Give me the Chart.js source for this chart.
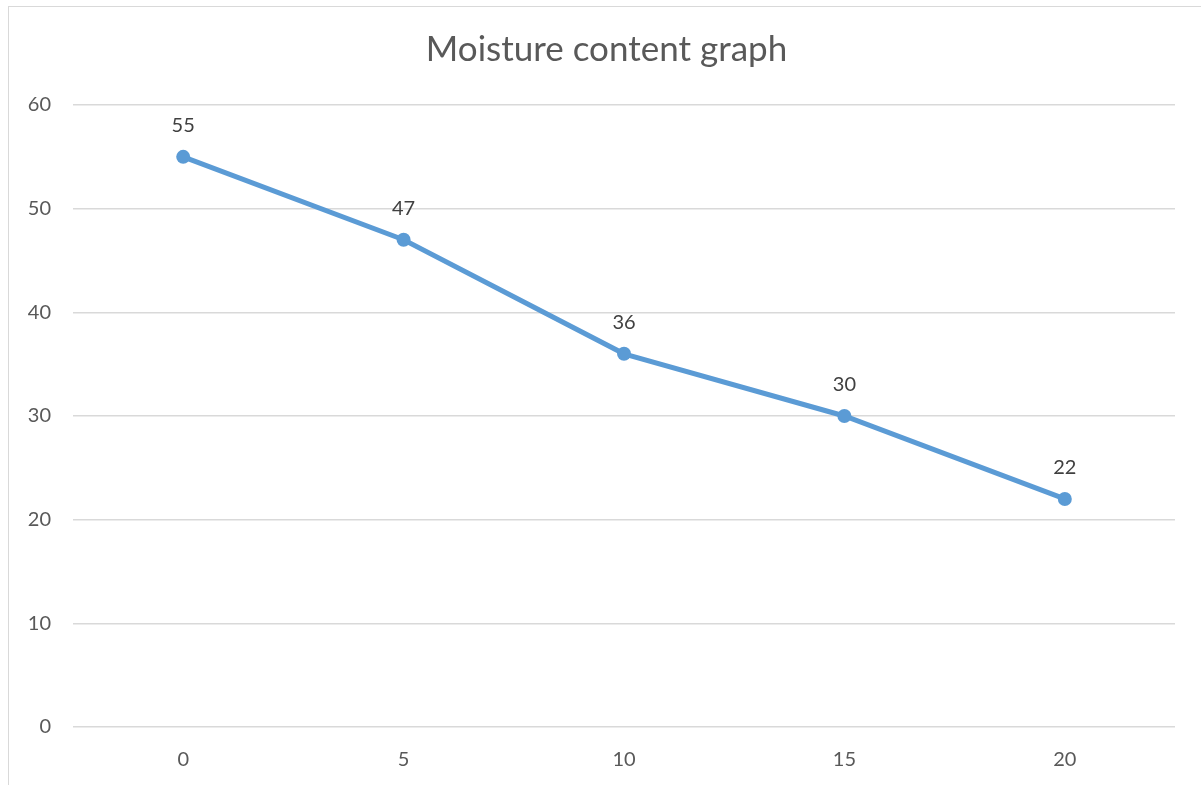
<!DOCTYPE html>
<html>
<head>
<meta charset="utf-8">
<script src="https://cdn.jsdelivr.net/npm/chart.js@4"></script>
<style>
  html, body { margin: 0; padding: 0; background: #fff; }
  #wrap { position: relative; width: 1201px; height: 785px; overflow: hidden; }
  #frame { position: absolute; left: 8px; top: 6px; width: 1300px; height: 900px; border: 1px solid #d9d9d9; box-sizing: border-box; }
  canvas { position: absolute; left: 0; top: 0; }
</style>
</head>
<body>
<div id="wrap">
  <div id="frame"></div>
  <canvas id="moistureChart" width="1201" height="785"></canvas>
</div>
<script>
// chart data
const categories = ['0', '5', '10', '15', '20'];
const moisture = [55, 47, 36, 30, 22];
const yTicks = [0, 10, 20, 30, 40, 50, 60];
const chartTitle = 'Moisture content graph';

const FONT = "Lato, 'Open Sans', sans-serif";

// title centred on the outer frame, not on the plot
const frameTitle = {
  id: 'frameTitle',
  afterDraw(chart) {
    const ctx = chart.ctx;
    ctx.save();
    ctx.font = '35px ' + FONT;
    ctx.fillStyle = '#595959';
    ctx.textAlign = 'center';
    ctx.textBaseline = 'middle';
    ctx.fillText(chartTitle, (chart.width + 12) / 2, 50);
    ctx.restore();
  }
};

// draw value labels above each point
const valueLabels = {
  id: 'valueLabels',
  afterDatasetsDraw(chart) {
    const ctx = chart.ctx;
    const meta = chart.getDatasetMeta(0);
    ctx.save();
    ctx.font = '20px ' + FONT;
    ctx.fillStyle = '#404040';
    ctx.textAlign = 'center';
    ctx.textBaseline = 'middle';
    meta.data.forEach((pt, i) => {
      ctx.fillText(String(moisture[i]), pt.x, pt.y - 31);
    });
    ctx.restore();
  }
};

const ctx = document.getElementById('moistureChart').getContext('2d');

new Chart(ctx, {
  type: 'line',
  data: {
    labels: categories,
    datasets: [{
      label: 'Moisture',
      data: moisture,
      borderColor: '#5b9bd5',
      backgroundColor: '#5b9bd5',
      borderWidth: 5,
      pointRadius: 7,
      pointHoverRadius: 7,
      pointBorderWidth: 0,
      tension: 0
    }]
  },
  options: {
    responsive: false,
    animation: false,
    layout: { padding: { left: 0, right: 26, top: 105, bottom: 0 } },
    plugins: {
      legend: { display: false },
      tooltip: { enabled: false },
      title: { display: false }
    },
    scales: {
      x: {
        offset: true,
        grid: { display: false },
        border: { display: false },
        ticks: {
          color: '#595959',
          font: { family: FONT, size: 20 },
          padding: 13
        },
        afterFit(scale) { scale.height = 58; }
      },
      y: {
        min: 0,
        max: 60,
        afterBuildTicks(scale) { scale.ticks = yTicks.map(v => ({ value: v })); },
        grid: { color: '#d9d9d9', lineWidth: 1.5, drawTicks: false },
        border: { display: false },
        ticks: {
          color: '#595959',
          font: { family: FONT, size: 20 },
          padding: 22
        },
        afterFit(scale) { scale.width = 73; }
      }
    }
  },
  plugins: [valueLabels, frameTitle]
});
</script>
</body>
</html>
